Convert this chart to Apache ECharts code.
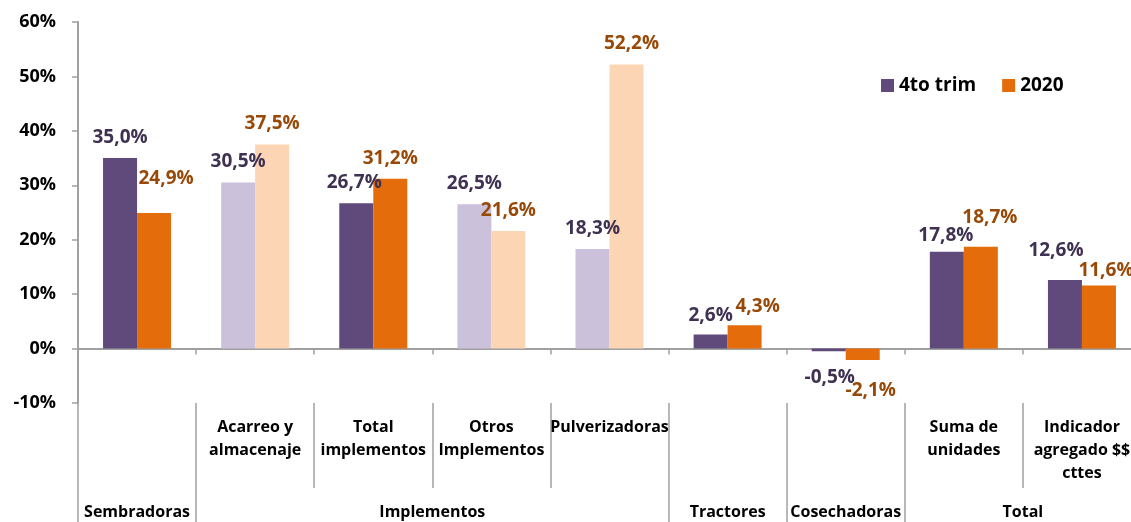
<!DOCTYPE html>
<html>
<head>
<meta charset="utf-8">
<script src="https://cdn.jsdelivr.net/npm/echarts@6/dist/echarts.min.js"></script>
<style>
  html, body { margin: 0; padding: 0; background: #fff; }
  #main { width: 1131px; height: 522px; }
</style>
</head>
<body>
<div id="main"></div>
<script>
// categorías (nivel 1) y grupos (nivel 2)
var categories = ['Sembradoras', 'Acarreo y\nalmacenaje', 'Total\nimplementos', 'Otros\nImplementos',
  'Pulverizadoras', 'Tractores', 'Cosechadoras', 'Suma de\nunidades', 'Indicador\nagregado $$\ncttes']
var subLabels = ['', 'Acarreo y\nalmacenaje', 'Total\nimplementos', 'Otros\nImplementos',
  'Pulverizadoras', '', '', 'Suma de\nunidades', 'Indicador\nagregado $$\ncttes']
var groups = ['Sembradoras', 'Implementos', 'Tractores', 'Cosechadoras', 'Total']
var groupSpans = [1, 4, 1, 1, 2]

var trim4 = [35.0, 30.5, 26.7, 26.5, 18.3, 2.6, -0.5, 17.8, 12.6]
var y2020 = [24.9, 37.5, 31.2, 21.6, 52.2, 4.3, -2.1, 18.7, 11.6]
// categorías con colores claros
var faded = [false, true, false, true, true, false, false, false, false]

var yTicks = [-10, 0, 10, 20, 30, 40, 50, 60]

// desplazamiento manual de etiquetas (como en el original)
var shiftTrim = [[0, 0], [0, 0], [-2, 0], [0, 0], [0, 0], [0, 2], [1, 6], [-1, 4], [-9, -9]]
var shift2020 = [[12, -14], [0, 0], [0, 0], [0, 0], [5, 0], [13, 2], [8, 10], [9, -9], [7, 6]]

var GREY = '#a0a0a0'
var FONT = 'Open Sans'

// límites y centros de los grupos
var groupBounds = [0]
var groupCenters = []
groupSpans.forEach(function (s) {
  var start = groupBounds[groupBounds.length - 1]
  groupCenters.push(start + s / 2)
  groupBounds.push(start + s)
})

const pct = (v) => v.toFixed(1).replace('.', ',') + '%'

const buildData = (values, dark, light, labelColor, shifts) => values.map(function (v, i) {
  return {
    value: v,
    itemStyle: { color: faded[i] ? light : dark },
    label: {
      position: v < 0 ? 'bottom' : 'top',
      offset: shifts[i],
      color: labelColor
    }
  }
})

var myChart = echarts.init(document.getElementById('main'))
myChart.setOption({
  animation: false,
  textStyle: { fontFamily: FONT },
  legend: {
    left: 876,
    top: 71,
    itemWidth: 13,
    itemHeight: 13,
    itemGap: 26,
    icon: 'rect',
    textStyle: { fontSize: 19, fontWeight: 'bold', color: '#000', fontFamily: FONT },
    data: ['4to trim', '2020']
  },
  grid: {
    left: 78,
    top: 22,
    width: 1063,
    height: 381,
    containLabel: false,
    outerBoundsMode: 'none'
  },
  xAxis: [
    {
      type: 'category',
      data: categories,
      axisLine: { onZero: true, lineStyle: { color: GREY, width: 2 } },
      axisTick: { show: true, interval: 0, length: 6, lineStyle: { color: GREY, width: 1.5 } },
      axisLabel: { show: false },
      splitLine: { show: false }
    },
    {
      type: 'category',
      data: subLabels,
      position: 'bottom',
      axisLine: { show: false, onZero: false },
      axisTick: { show: true, interval: 0, length: 85, lineStyle: { color: GREY, width: 1.5 } },
      axisLabel: {
        interval: 0,
        margin: 13,
        fontSize: 16,
        fontWeight: 'bold',
        lineHeight: 23,
        color: '#000',
        fontFamily: FONT
      }
    },
    {
      type: 'value',
      min: 0,
      max: categories.length,
      position: 'bottom',
      axisLine: { show: false, onZero: false },
      splitLine: { show: false },
      axisTick: {
        show: true,
        customValues: groupBounds,
        length: 125,
        lineStyle: { color: GREY, width: 1.5 }
      },
      axisLabel: {
        customValues: groupCenters,
        margin: 101,
        fontSize: 16,
        fontWeight: 'bold',
        color: '#000',
        fontFamily: FONT,
        formatter: function (v) {
          var i = groupCenters.indexOf(v)
          return i >= 0 ? groups[i] : ''
        }
      }
    }
  ],
  yAxis: {
    type: 'value',
    min: yTicks[0],
    max: yTicks[yTicks.length - 1],
    interval: 10,
    axisLine: { show: true, lineStyle: { color: GREY, width: 2 } },
    axisTick: { show: true, length: 6, lineStyle: { color: GREY, width: 1.5 } },
    splitLine: { show: false },
    axisLabel: {
      margin: 22,
      fontSize: 18,
      fontWeight: 'bold',
      color: '#000',
      fontFamily: FONT,
      formatter: (v) => v + '%'
    }
  },
  series: [
    {
      name: '4to trim',
      type: 'bar',
      xAxisIndex: 0,
      barWidth: 34,
      barGap: '0%',
      itemStyle: { color: '#5f4a7b' },
      label: {
        show: true,
        distance: 11,
        fontSize: 19,
        fontWeight: 'bold',
        fontFamily: FONT,
        formatter: (p) => pct(p.value)
      },
      data: buildData(trim4, '#5f4a7b', '#ccc1da', '#3f3151', shiftTrim)
    },
    {
      name: '2020',
      type: 'bar',
      xAxisIndex: 0,
      barWidth: 34,
      barGap: '0%',
      itemStyle: { color: '#e46c0a' },
      label: {
        show: true,
        distance: 11,
        fontSize: 19,
        fontWeight: 'bold',
        fontFamily: FONT,
        formatter: (p) => pct(p.value)
      },
      data: buildData(y2020, '#e46c0a', '#fcd5b5', '#984807', shift2020)
    }
  ]
})
</script>
</body>
</html>
